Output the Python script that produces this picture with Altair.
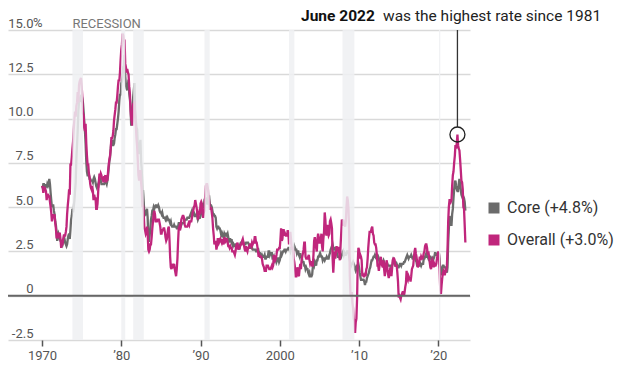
import altair as alt
import pandas as pd

# Monthly year-over-year CPI change, Jan 1970 - Jun 2023 (percent)
overall = [
    6.2, 6.1, 5.8, 6.1, 6.1, 6.0, 5.9, 5.4, 5.7, 5.7, 5.6, 5.6,
    5.3, 5.0, 4.7, 4.2, 4.4, 4.6, 4.4, 4.6, 4.1, 3.8, 3.3, 3.3,
    3.3, 3.5, 3.5, 3.5, 3.2, 2.7, 2.9, 2.9, 3.2, 3.4, 3.4, 3.4,
    3.6, 3.9, 4.6, 5.1, 5.5, 6.0, 5.7, 7.4, 7.4, 7.8, 8.3, 8.7,
    9.4, 10.0, 10.4, 10.1, 10.7, 10.9, 11.5, 10.9, 11.9, 12.1, 12.2, 12.3,
    11.8, 11.2, 10.3, 10.2, 9.5, 9.3, 9.7, 8.6, 7.9, 7.4, 7.4, 6.9,
    6.7, 6.3, 6.1, 6.0, 6.2, 5.9, 5.4, 5.7, 5.5, 5.5, 4.9, 4.9,
    5.2, 5.9, 6.4, 6.9, 6.7, 6.9, 6.8, 6.6, 6.6, 6.4, 6.7, 6.7,
    6.8, 6.4, 6.6, 6.5, 7.0, 7.4, 7.7, 7.9, 8.3, 8.9, 8.9, 9.0,
    9.3, 9.9, 10.2, 10.5, 10.9, 10.9, 11.3, 11.8, 12.2, 12.1, 12.6, 13.3,
    13.9, 14.2, 14.8, 14.7, 14.4, 14.4, 13.1, 12.9, 12.6, 12.8, 12.6, 12.5,
    11.8, 11.4, 10.5, 10.0, 9.8, 9.6, 10.8, 10.8, 11.0, 10.1, 9.6, 8.9,
    8.4, 7.6, 6.8, 6.5, 6.7, 7.1, 6.4, 5.9, 5.0, 5.1, 4.6, 3.8,
    3.7, 3.5, 3.6, 3.9, 3.5, 2.6, 2.5, 2.6, 2.9, 2.9, 3.3, 3.8,
    4.2, 4.6, 4.8, 4.6, 4.2, 4.2, 4.2, 4.3, 4.3, 4.3, 4.1, 3.9,
    3.5, 3.5, 3.7, 3.7, 3.8, 3.8, 3.6, 3.3, 3.1, 3.2, 3.5, 3.8,
    3.9, 3.1, 2.2, 1.6, 1.5, 1.8, 1.6, 1.6, 1.8, 1.5, 1.3, 1.1,
    1.5, 2.1, 3.0, 3.8, 3.9, 3.7, 3.9, 4.3, 4.4, 4.5, 4.5, 4.4,
    4.0, 3.9, 3.9, 3.9, 3.9, 4.0, 4.1, 4.0, 4.2, 4.2, 4.2, 4.4,
    4.7, 4.8, 5.0, 5.1, 5.4, 5.2, 5.0, 4.7, 4.3, 4.5, 4.7, 4.6,
    5.2, 5.3, 5.2, 4.7, 4.4, 4.7, 4.8, 5.6, 6.2, 6.3, 6.3, 6.1,
    5.7, 5.3, 4.9, 4.9, 5.0, 4.7, 4.4, 3.8, 3.4, 2.9, 3.0, 3.1,
    2.6, 2.8, 3.2, 3.2, 3.0, 3.1, 3.2, 3.1, 3.0, 3.2, 3.0, 2.9,
    3.3, 3.2, 3.1, 3.2, 3.2, 3.0, 2.8, 2.8, 2.7, 2.8, 2.7, 2.7,
    2.5, 2.5, 2.5, 2.4, 2.3, 2.5, 2.8, 2.9, 3.0, 2.6, 2.7, 2.7,
    2.8, 2.9, 2.9, 3.1, 3.2, 3.0, 2.8, 2.6, 2.5, 2.8, 2.6, 2.5,
    2.7, 2.7, 2.8, 2.9, 2.9, 2.8, 3.0, 2.9, 3.0, 3.0, 3.3, 3.3,
    3.0, 3.0, 2.8, 2.5, 2.2, 2.3, 2.2, 2.2, 2.2, 2.1, 1.8, 1.7,
    1.6, 1.4, 1.4, 1.4, 1.7, 1.7, 1.7, 1.6, 1.5, 1.5, 1.5, 1.6,
    1.7, 1.6, 1.7, 2.3, 2.1, 2.0, 2.1, 2.3, 2.6, 2.6, 2.6, 2.7,
    2.7, 3.2, 3.8, 3.1, 3.2, 3.7, 3.7, 3.4, 3.5, 3.4, 3.4, 3.4,
    3.7, 3.5, 2.9, 3.3, 3.6, 3.2, 2.7, 2.7, 2.6, 2.1, 1.9, 1.6,
    1.1, 1.1, 1.5, 1.6, 1.2, 1.1, 1.5, 1.8, 1.5, 2.0, 2.2, 2.4,
    2.6, 3.0, 3.0, 2.2, 2.1, 2.1, 2.1, 2.2, 2.3, 2.0, 1.8, 1.9,
    1.9, 1.7, 1.7, 2.3, 3.1, 3.3, 3.0, 2.7, 2.5, 3.2, 3.5, 3.3,
    3.0, 3.0, 3.1, 3.5, 2.8, 2.5, 3.2, 3.6, 4.7, 4.3, 3.5, 3.4,
    4.0, 3.6, 3.4, 3.5, 4.2, 4.3, 4.1, 3.8, 2.1, 1.3, 2.0, 2.5,
    2.1, 2.4, 2.8, 2.6, 2.7, 2.7, 2.4, 2.0, 2.8, 3.5, 4.3, 4.1,
    4.3, 4.0, 4.0, 3.9, 4.2, 5.0, 5.6, 5.4, 4.9, 3.7, 1.1, 0.1,
    0.0, 0.2, -0.4, -0.7, -1.3, -1.4, -2.1, -1.5, -1.3, -0.2, 1.8, 2.7,
    2.6, 2.1, 2.3, 2.2, 2.0, 1.1, 1.2, 1.1, 1.1, 1.2, 1.1, 1.5,
    1.6, 2.1, 2.7, 3.2, 3.6, 3.6, 3.6, 3.8, 3.9, 3.5, 3.4, 3.0,
    2.9, 2.9, 2.7, 2.3, 1.7, 1.7, 1.4, 1.7, 2.0, 2.2, 1.8, 1.7,
    1.6, 2.0, 1.5, 1.1, 1.4, 1.8, 2.0, 1.5, 1.2, 1.0, 1.2, 1.5,
    1.6, 1.1, 1.5, 2.0, 2.1, 2.1, 2.0, 1.7, 1.7, 1.7, 1.3, 0.8,
    -0.1, 0.0, -0.1, -0.2, 0.0, 0.1, 0.2, 0.2, 0.0, 0.2, 0.5, 0.7,
    1.4, 1.0, 0.9, 1.1, 1.0, 1.0, 0.8, 1.1, 1.5, 1.6, 1.7, 2.1,
    2.5, 2.7, 2.4, 2.2, 1.9, 1.6, 1.7, 1.9, 2.2, 2.0, 2.2, 2.1,
    2.1, 2.2, 2.4, 2.5, 2.8, 2.9, 2.9, 2.7, 2.3, 2.5, 2.2, 1.9,
    1.6, 1.5, 1.9, 2.0, 1.8, 1.6, 1.8, 1.7, 1.7, 1.8, 2.1, 2.3,
    2.5, 2.3, 1.5, 0.3, 0.1, 0.6, 1.0, 1.3, 1.4, 1.2, 1.2, 1.4,
    1.4, 1.7, 2.6, 4.2, 5.0, 5.4, 5.4, 5.3, 5.4, 6.2, 6.8, 7.0,
    7.5, 7.9, 8.5, 8.3, 8.6, 9.1, 8.5, 8.3, 8.2, 7.7, 7.1, 6.5,
    6.4, 6.0, 5.0, 4.9, 4.0, 3.0,
]

core = [
    6.2, 6.1, 6.3, 6.3, 6.2, 6.1, 6.3, 6.1, 6.3, 6.2, 6.3, 6.6,
    6.3, 5.8, 5.4, 5.0, 5.1, 5.1, 4.8, 4.6, 4.2, 4.0, 3.6, 3.1,
    3.3, 3.5, 3.4, 3.2, 3.1, 3.1, 3.0, 2.9, 3.1, 3.1, 3.2, 3.0,
    2.9, 2.8, 2.9, 3.2, 3.4, 3.5, 3.2, 3.7, 4.3, 4.5, 4.9, 4.7,
    5.0, 5.4, 5.9, 6.4, 7.7, 8.5, 9.3, 10.4, 10.9, 11.1, 11.2, 11.1,
    11.3, 11.1, 10.9, 10.4, 9.8, 9.3, 8.6, 7.6, 7.0, 6.8, 6.8, 6.8,
    6.6, 6.6, 6.5, 6.5, 6.5, 6.4, 6.6, 6.7, 6.6, 6.4, 6.2, 6.1,
    6.2, 6.1, 6.4, 6.5, 6.6, 6.5, 6.3, 6.3, 6.3, 6.3, 6.3, 6.4,
    6.4, 6.4, 6.3, 6.5, 6.8, 7.2, 7.6, 7.8, 8.3, 8.7, 8.8, 8.5,
    8.5, 8.6, 8.9, 9.1, 9.4, 9.4, 9.7, 10.0, 10.4, 11.0, 11.4, 11.3,
    12.0, 12.1, 12.4, 12.9, 13.0, 13.6, 12.4, 11.9, 11.7, 11.6, 11.9, 12.2,
    11.4, 11.1, 10.7, 9.6, 9.9, 9.9, 11.2, 11.6, 12.0, 10.5, 9.9, 9.5,
    9.4, 8.5, 8.0, 8.3, 8.5, 8.8, 7.6, 7.1, 5.9, 5.9, 5.3, 4.5,
    4.6, 4.6, 4.8, 4.9, 4.4, 3.1, 3.1, 3.4, 3.8, 4.3, 4.5, 4.8,
    4.8, 5.0, 4.9, 5.0, 5.1, 5.1, 5.0, 5.0, 5.1, 5.0, 4.8, 4.7,
    4.7, 4.6, 4.7, 4.5, 4.4, 4.4, 4.4, 4.3, 4.4, 4.3, 4.4, 4.3,
    4.3, 4.2, 4.1, 4.2, 4.0, 3.9, 3.9, 3.9, 4.0, 3.9, 3.9, 3.9,
    3.8, 3.8, 3.9, 4.1, 4.1, 4.1, 3.9, 4.0, 4.1, 4.1, 4.1, 4.1,
    4.3, 4.3, 4.3, 4.3, 4.4, 4.4, 4.4, 4.4, 4.5, 4.6, 4.7, 4.8,
    4.6, 4.7, 4.7, 4.5, 4.5, 4.5, 4.6, 4.5, 4.3, 4.4, 4.4, 4.4,
    4.5, 4.7, 5.0, 5.0, 5.0, 5.0, 5.4, 5.5, 5.5, 5.3, 5.2, 5.2,
    5.6, 5.6, 5.2, 5.1, 5.1, 5.0, 4.8, 4.6, 4.6, 4.5, 4.5, 4.4,
    3.9, 3.8, 3.9, 3.9, 3.8, 3.8, 3.7, 3.5, 3.3, 3.5, 3.4, 3.3,
    3.5, 3.4, 3.5, 3.5, 3.4, 3.5, 3.3, 3.1, 3.2, 3.2, 3.0, 3.2,
    2.9, 2.8, 2.9, 2.8, 2.8, 2.9, 2.9, 2.9, 2.9, 2.8, 2.7, 2.6,
    2.9, 3.0, 3.0, 3.0, 3.1, 3.0, 2.9, 2.9, 2.9, 3.0, 3.0, 3.0,
    3.0, 2.9, 2.8, 2.7, 2.7, 2.7, 2.7, 2.6, 2.6, 2.6, 2.6, 2.6,
    2.5, 2.5, 2.5, 2.7, 2.5, 2.4, 2.4, 2.3, 2.2, 2.3, 2.2, 2.2,
    2.2, 2.3, 2.1, 2.1, 2.2, 2.2, 2.2, 2.5, 2.5, 2.3, 2.4, 2.4,
    2.4, 2.1, 2.1, 2.2, 2.0, 2.1, 2.1, 1.9, 2.0, 2.1, 2.1, 1.9,
    2.0, 2.2, 2.4, 2.3, 2.4, 2.5, 2.5, 2.6, 2.6, 2.5, 2.6, 2.6,
    2.6, 2.7, 2.7, 2.6, 2.5, 2.7, 2.7, 2.7, 2.6, 2.6, 2.8, 2.7,
    2.6, 2.6, 2.4, 2.5, 2.5, 2.3, 2.2, 2.4, 2.2, 2.2, 2.0, 1.9,
    1.9, 1.7, 1.7, 1.5, 1.6, 1.5, 1.5, 1.3, 1.2, 1.3, 1.1, 1.1,
    1.1, 1.2, 1.6, 1.8, 1.7, 1.9, 1.8, 1.7, 2.0, 2.0, 2.2, 2.2,
    2.3, 2.4, 2.3, 2.2, 2.2, 2.0, 2.1, 2.1, 2.0, 2.1, 2.1, 2.2,
    2.1, 2.1, 2.1, 2.3, 2.4, 2.6, 2.7, 2.8, 2.9, 2.7, 2.6, 2.6,
    2.7, 2.7, 2.5, 2.3, 2.2, 2.2, 2.2, 2.1, 2.1, 2.2, 2.3, 2.4,
    2.5, 2.3, 2.4, 2.3, 2.3, 2.4, 2.5, 2.5, 2.5, 2.2, 2.0, 1.8,
    1.7, 1.8, 1.8, 1.9, 1.8, 1.7, 1.5, 1.4, 1.5, 1.7, 1.7, 1.8,
    1.6, 1.3, 1.1, 0.9, 0.9, 0.9, 0.9, 0.9, 0.8, 0.6, 0.8, 0.8,
    1.0, 1.1, 1.2, 1.3, 1.5, 1.6, 1.8, 2.0, 2.0, 2.1, 2.2, 2.2,
    2.3, 2.2, 2.3, 2.3, 2.3, 2.2, 2.1, 1.9, 2.0, 2.0, 1.9, 1.9,
    1.9, 2.0, 1.9, 1.7, 1.7, 1.6, 1.7, 1.8, 1.7, 1.7, 1.7, 1.7,
    1.6, 1.6, 1.7, 1.8, 2.0, 1.9, 1.9, 1.7, 1.7, 1.8, 1.7, 1.6,
    1.6, 1.7, 1.8, 1.8, 1.7, 1.8, 1.8, 1.8, 1.9, 1.9, 2.0, 2.1,
    2.2, 2.3, 2.2, 2.1, 2.2, 2.2, 2.2, 2.3, 2.2, 2.1, 2.1, 2.2,
    2.3, 2.2, 2.0, 1.9, 1.7, 1.7, 1.7, 1.7, 1.7, 1.8, 1.7, 1.8,
    1.8, 1.8, 2.1, 2.1, 2.2, 2.3, 2.4, 2.2, 2.2, 2.1, 2.2, 2.2,
    2.2, 2.1, 2.0, 2.1, 2.0, 2.1, 2.2, 2.4, 2.4, 2.3, 2.3, 2.3,
    2.3, 2.4, 2.1, 1.4, 1.2, 1.2, 1.6, 1.7, 1.7, 1.6, 1.6, 1.6,
    1.4, 1.3, 1.6, 3.0, 3.8, 4.5, 4.3, 4.0, 4.0, 4.6, 4.9, 5.5,
    6.0, 6.4, 6.5, 6.2, 6.0, 5.9, 5.9, 6.3, 6.6, 6.3, 6.0, 5.7,
    5.6, 5.5, 5.6, 5.5, 5.3, 4.8,
]

series_names = ["Core (+4.8%)", "Overall (+3.0%)"]
series_colors = ["#6b6b6b", "#c0267c"]

recession_start = ["1973-11-01", "1980-01-01", "1981-07-01", "1990-07-01",
                   "2001-03-01", "2007-12-01", "2020-02-01"]
recession_end = ["1975-03-01", "1980-07-01", "1982-11-01", "1991-03-01",
                 "2001-11-01", "2009-06-01", "2020-04-01"]
recession_label = "RECESSION"

y_ticks = [-2.5, 0, 2.5, 5, 7.5, 10, 12.5, 15]
x_tick_years = [1970, 1980, 1990, 2000, 2010, 2020]

note_date = "2022-06-01"
note_value = 9.1
note_bold = "June 2022"
note_rest = "was the highest rate since 1981"

FONT = "Roboto"
PLOT_W, PLOT_H = 462, 310

months = pd.date_range("1970-01-01", periods=len(overall), freq="MS").strftime("%Y-%m-%d")
df = pd.concat([
    pd.DataFrame({"date": months, "value": core, "series": series_names[0]}),
    pd.DataFrame({"date": months, "value": overall, "series": series_names[1]}),
], ignore_index=True)
rec_df = pd.DataFrame({"start": recession_start, "end": recession_end})
rec_label_df = pd.DataFrame({"start": [recession_start[0]], "label": [recession_label]})
note_df = pd.DataFrame({"date": [note_date], "value": [note_value]})
zero_df = pd.DataFrame({"zv": [0.0]})
pct_df = pd.DataFrame({"pv": [15.0], "t": ["%"]})

x_scale = alt.Scale(domain=[alt.DateTime(year=1965, month=9, date=15),
                            alt.DateTime(year=2024, month=1, date=1)])
y_scale = alt.Scale(domain=[-2.5, 15], nice=False, zero=False)

x_axis = alt.Axis(
    values=[alt.DateTime(year=y, month=1, date=1) for y in x_tick_years],
    labelExpr="(year(datum.value) == 1970 || year(datum.value) == 2000) ? ('' + year(datum.value)) : ('\u2019' + timeFormat(datum.value, '%y'))",
    title=None, grid=False, domain=False, tickColor="#555555", tickSize=6,
    tickWidth=1.5, labelColor="#555555", labelFontSize=13, labelFont=FONT,
    labelPadding=3,
)
# y axis: labels sit just above each grid line; grid lines come from the axis itself
y_axis = alt.Axis(
    values=y_ticks, title=None, grid=True, gridColor="#d9d9d9", gridWidth=1.5,
    gridOpacity=1, domain=False, ticks=False, labelAlign="right",
    labelBaseline="bottom", labelPadding=-25, labelColor="#555555",
    labelFontSize=13, labelFont=FONT,
    labelExpr="datum.value < 0 ? '-' + format(-datum.value, '.1f') : (datum.value == 0 ? '0' : format(datum.value, '.1f'))",
)

lines = alt.Chart(df).mark_line(strokeWidth=2.3).encode(
    x=alt.X("date:T", scale=x_scale, axis=x_axis),
    y=alt.Y("value:Q", scale=y_scale, axis=y_axis),
    color=alt.Color(
        "series:N",
        scale=alt.Scale(domain=series_names, range=series_colors),
        legend=alt.Legend(
            title=None, orient="none", legendX=478, legendY=170,
            symbolType="square", symbolSize=16, symbolStrokeWidth=7,
            labelFontSize=16, labelColor="#333333", labelFont=FONT,
            labelOffset=5, rowPadding=0, padding=0,
        ),
    ),
)

bands = alt.Chart(rec_df).mark_rect(color="#eef0f2", opacity=0.85).encode(
    x=alt.X("start:T", scale=x_scale),
    x2="end:T",
)

zero_line = alt.Chart(zero_df).mark_rule(color="#666666", strokeWidth=2).encode(
    y=alt.Y("zv:Q", scale=y_scale),
)

note_rule = alt.Chart(note_df).mark_rule(color="#333333", strokeWidth=1.3, yOffset=-7.5).encode(
    x=alt.X("date:T", scale=x_scale),
    y=alt.Y("value:Q", scale=y_scale),
    y2=alt.value(0),
)
note_circle = alt.Chart(note_df).mark_point(
    shape="circle", size=225, filled=False, color="#222222", strokeWidth=1.3, opacity=1
).encode(
    x=alt.X("date:T", scale=x_scale),
    y=alt.Y("value:Q", scale=y_scale),
)

note_text_bold = alt.Chart(note_df).mark_text(
    text=note_bold, font=FONT, fontSize=15.5, fontWeight="bold", color="#111111",
    align="left", baseline="alphabetic",
).encode(x=alt.value(293), y=alt.value(-9))
note_text_rest = alt.Chart(note_df).mark_text(
    text=note_rest, font=FONT, fontSize=15.5, color="#222222",
    align="left", baseline="alphabetic",
).encode(x=alt.value(375), y=alt.value(-9))

rec_text = alt.Chart(rec_label_df).mark_text(
    font=FONT, fontSize=13, color="#777777", align="left", baseline="alphabetic",
).encode(
    x=alt.X("start:T", scale=x_scale),
    y=alt.value(-2),
    text="label:N",
)

pct_text = alt.Chart(pct_df).mark_text(
    font=FONT, fontSize=13, color="#555555", align="left", baseline="bottom",
).encode(
    x=alt.value(25),
    y=alt.Y("pv:Q", scale=y_scale),
    text="t:N",
)

# the line layer comes first so that its axes (with grid) own the chart's axes
chart = alt.layer(
    lines, bands, zero_line, note_rule, note_circle,
    note_text_bold, note_text_rest, rec_text, pct_text,
).properties(
    width=PLOT_W, height=PLOT_H,
    padding={"left": 0, "top": 22, "right": 146, "bottom": 22},
    autosize=alt.AutoSizeParams(type="none"),
)
chart = chart.configure(font=FONT).configure_view(stroke=None)

chart.save("out.html", embed_options={"renderer": "svg", "actions": False})
